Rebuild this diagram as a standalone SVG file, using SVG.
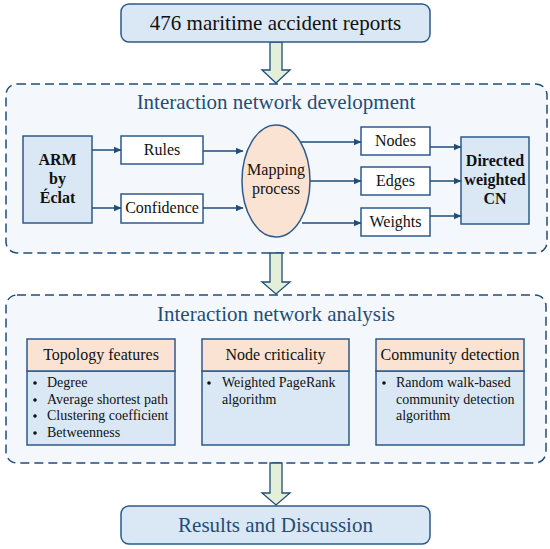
<svg xmlns="http://www.w3.org/2000/svg" width="550" height="549" viewBox="0 0 550 549" font-family="'Liberation Serif', 'Times New Roman', 'DejaVu Serif', serif">
<defs>
<marker id="ah" markerWidth="8" markerHeight="8" refX="7.5" refY="4" orient="auto" markerUnits="userSpaceOnUse">
<path d="M0,0.5 L8,4 L0,7.5 Z" fill="#1f4e79"/>
</marker>
</defs>
<style>
.t21{font-size:21px;text-anchor:middle;}
.blue{fill:#1f4e79;}
.dark{fill:#111;}
.lb{font-size:16px;text-anchor:middle;fill:#111;}
.bold{font-size:16px;font-weight:bold;text-anchor:middle;fill:#111;}
.bl{font-size:14px;fill:#111;}
.cont{fill:#f4f8fc;stroke:#1f4e79;stroke-width:1.5;stroke-dasharray:9 5;}
.rbox{fill:#dae8f5;stroke:#2e5a8a;stroke-width:1.5;}
.wbox{fill:#fff;stroke:#2e5a8a;stroke-width:1.5;}
.bbox{fill:#dae8f5;stroke:#2e5a8a;stroke-width:1.5;}
.hbox{fill:#fbe3d4;stroke:#2e5a8a;stroke-width:1.5;}
.big{fill:#e3efd9;stroke:#1f4e79;stroke-width:1.3;}
.con{fill:none;stroke:#1f4e79;stroke-width:1.5;marker-end:url(#ah);}
</style>
<rect width="550" height="549" fill="#fff"/>

<g id="containers">
<rect class="cont" x="6" y="84" width="541" height="169" rx="11"/>
<rect class="cont" x="6" y="295" width="540" height="168" rx="11"/>
</g>

<g id="big-arrows">
<polygon class="big" points="270,42 282,42 282,70 290,70 276,83 262,70 270,70"/>
<polygon class="big" points="270,253 282,253 282,282 290,282 276,294 262,282 270,282"/>
<polygon class="big" points="270,463 282,463 282,493 290,493 276,505 262,493 270,493"/>
</g>

<g id="reports">
<rect class="rbox" x="121" y="4" width="309" height="38" rx="8"/>
<text class="t21 dark" x="275.5" y="30">476 maritime accident reports</text>
</g>

<g id="dev-title"><text class="t21 blue" x="276" y="109">Interaction network development</text></g>

<g id="arm">
<rect class="bbox" x="23" y="136" width="69" height="87"/>
<text class="bold" x="57.5" y="165">ARM</text>
<text class="bold" x="57.5" y="184">by</text>
<text class="bold" x="57.5" y="203">Éclat</text>
</g>
<g id="rules">
<rect class="wbox" x="121" y="136" width="82" height="28"/>
<text class="lb" x="162" y="155">Rules</text>
</g>
<g id="confidence">
<rect class="wbox" x="121" y="194" width="82" height="29"/>
<text class="lb" x="162" y="213">Confidence</text>
</g>
<g id="mapping">
<ellipse cx="276" cy="181" rx="34" ry="56" fill="#fbe3d4" stroke="#2e5a8a" stroke-width="1.5"/>
<text class="lb" x="276" y="175">Mapping</text>
<text class="lb" x="276" y="194">process</text>
</g>
<g id="nodes">
<rect class="wbox" x="361" y="127" width="69" height="28"/>
<text class="lb" x="395.5" y="146">Nodes</text>
</g>
<g id="edges">
<rect class="wbox" x="361" y="167" width="69" height="28"/>
<text class="lb" x="395.5" y="186">Edges</text>
</g>
<g id="weights">
<rect class="wbox" x="361" y="208" width="69" height="28"/>
<text class="lb" x="395.5" y="227">Weights</text>
</g>
<g id="cn">
<rect class="bbox" x="461" y="137" width="68" height="87"/>
<text class="bold" x="495" y="166">Directed</text>
<text class="bold" x="495" y="185">weighted</text>
<text class="bold" x="495" y="204">CN</text>
</g>

<g id="connectors">
<line class="con" x1="92" y1="150" x2="121" y2="150"/>
<line class="con" x1="92" y1="208" x2="121" y2="208"/>
<line class="con" x1="203" y1="151" x2="243" y2="151"/>
<line class="con" x1="203" y1="208" x2="243" y2="208"/>
<line class="con" x1="301" y1="142" x2="361" y2="142"/>
<line class="con" x1="310" y1="181" x2="361" y2="181"/>
<line class="con" x1="302" y1="223" x2="361" y2="223"/>
<line class="con" x1="430" y1="147" x2="461" y2="147"/>
<line class="con" x1="430" y1="181" x2="461" y2="181"/>
<line class="con" x1="430" y1="216" x2="461" y2="216"/>
</g>

<g id="ana-title"><text class="t21 blue" x="276" y="321">Interaction network analysis</text></g>

<g id="topology">
<rect class="bbox" x="27" y="371" width="148" height="74"/>
<rect class="hbox" x="27" y="339" width="148" height="32"/>
<text class="lb" x="101" y="360">Topology features</text>
<circle cx="35" cy="383" r="1.8" fill="#111"/>
<text class="bl" x="47" y="387">Degree</text>
<circle cx="35" cy="400" r="1.8" fill="#111"/>
<text class="bl" x="47" y="404">Average shortest path</text>
<circle cx="35" cy="416" r="1.8" fill="#111"/>
<text class="bl" x="47" y="420">Clustering coefficient</text>
<circle cx="35" cy="433" r="1.8" fill="#111"/>
<text class="bl" x="47" y="437">Betweenness</text>
</g>

<g id="criticality">
<rect class="bbox" x="202" y="371" width="147" height="74"/>
<rect class="hbox" x="202" y="339" width="147" height="32"/>
<text class="lb" x="275.5" y="360">Node criticality</text>
<circle cx="209" cy="383" r="1.8" fill="#111"/>
<text class="bl" x="222" y="387">Weighted PageRank</text>
<text class="bl" x="222" y="404">algorithm</text>
</g>

<g id="community">
<rect class="bbox" x="376" y="371" width="148" height="74"/>
<rect class="hbox" x="376" y="339" width="148" height="32"/>
<text class="lb" x="450" y="360">Community detection</text>
<circle cx="384" cy="383" r="1.8" fill="#111"/>
<text class="bl" x="396" y="387">Random walk-based</text>
<text class="bl" x="396" y="404">community detection</text>
<text class="bl" x="396" y="420">algorithm</text>
</g>

<g id="results">
<rect class="rbox" x="121" y="506" width="309" height="38" rx="8"/>
<text class="t21 blue" x="275.5" y="532">Results and Discussion</text>
</g>
</svg>
